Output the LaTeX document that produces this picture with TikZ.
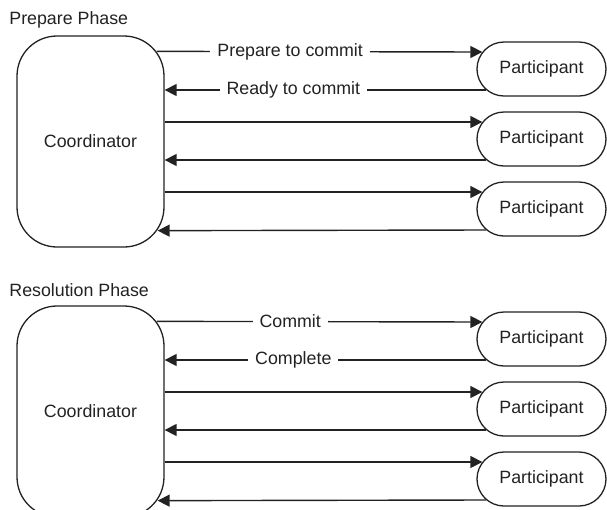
\documentclass[tikz,border=0pt]{standalone}
\usepackage{fontspec}
\setmainfont{Liberation Sans}
\usetikzlibrary{shapes.misc,arrows.meta,calc}
\definecolor{ink}{HTML}{222222}
\begin{document}
\begin{tikzpicture}[x=0.5pt,y=-0.5pt,
  font=\fontsize{8.9}{10}\selectfont, text=ink,
  coordbox/.style={draw=ink, rounded corners=20pt, minimum width=73.5pt,
    minimum height=105.5pt, inner sep=0pt, line width=0.65pt},
  partbox/.style={draw=ink, rounded rectangle, minimum width=64.5pt,
    minimum height=27pt, inner sep=0pt, line width=0.65pt},
  msg/.style={draw=ink, line width=0.7pt, -{Triangle[length=6pt,width=6pt]}},
  lbl/.style={fill=white, inner xsep=3.5pt, inner ysep=1pt},
  phasetitle/.style={anchor=west, inner sep=0pt}]
\useasboundingbox (0,0) rectangle (607,510);

% Two phases of the two-phase commit protocol, one below the other
\foreach \ph/\dy/\ttl/\req/\rep in {A/0/Prepare Phase/Prepare to commit/Ready to commit,
                                    B/270/Resolution Phase/Commit/Complete}{
  \node[phasetitle] (t\ph) at (9,20+\dy) {\ttl};
  \node[coordbox] (c\ph) at (90.5,141.5+\dy) {Coordinator};
  \node[partbox] (p\ph1) at (541.5,69+\dy) {Participant};
  \node[partbox] (p\ph2) at (541.5,139+\dy) {Participant};
  \node[partbox] (p\ph3) at (541.5,209+\dy) {Participant};

  % request / reply to the first participant
  \draw[msg] ($(c\ph.north east)+(-8,16)$) --
    node[lbl,pos=.41] {\req} ($(p\ph1.west)+(6,-17)$);
  \draw[msg] ($(p\ph1.west)+(10,21)$) --
    node[lbl,pos=.6] {\rep} ($(c\ph.east |- p\ph1.center)+(0,21)$);
  % second participant
  \draw[msg] ($(c\ph.east |- p\ph2.center)+(0,-17)$) -- ($(p\ph2.west)+(6,-17)$);
  \draw[msg] ($(p\ph2.west)+(10,21)$) -- ($(c\ph.east |- p\ph2.center)+(0,21)$);
  % third participant
  \draw[msg] ($(c\ph.east |- p\ph3.center)+(0,-17)$) -- ($(p\ph3.west)+(6,-17)$);
  \draw[msg] ($(p\ph3.west)+(10,21)$) -- ($(c\ph.south east)+(-7,-17)$);
}
\end{tikzpicture}
\end{document}
